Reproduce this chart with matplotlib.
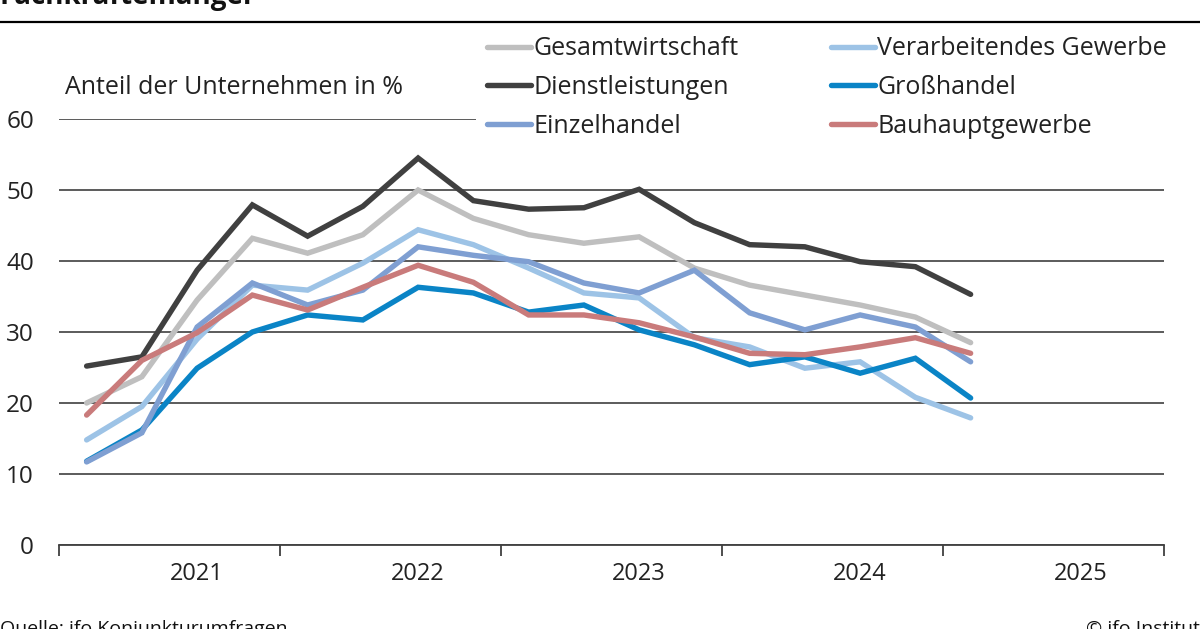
import numpy as np
import matplotlib.pyplot as plt
from matplotlib.lines import Line2D

plt.rcParams['font.family'] = ['Open Sans', 'DejaVu Sans']

# quarterly values, 2021 Q1 .. 2025 Q1
gesamt = [20.0, 23.7, 34.5, 43.2, 41.1, 43.7, 50.0, 46.0, 43.7, 42.5, 43.4, 39.0, 36.6, 35.2, 33.8, 32.1, 28.5]
dienst = [25.2, 26.5, 38.7, 47.9, 43.5, 47.7, 54.5, 48.5, 47.3, 47.5, 50.1, 45.4, 42.3, 42.0, 39.9, 39.2, 35.3]
einzel = [11.7, 15.8, 30.7, 36.9, 33.8, 35.9, 42.0, 40.8, 39.9, 36.9, 35.5, 38.7, 32.7, 30.3, 32.4, 30.7, 25.8]
verarb = [14.8, 19.5, 29.0, 36.6, 35.9, 39.7, 44.4, 42.3, 39.0, 35.5, 34.8, 29.2, 27.9, 24.9, 25.8, 20.8, 17.9]
gross = [11.8, 16.2, 24.9, 30.0, 32.4, 31.7, 36.3, 35.5, 32.8, 33.8, 30.3, 28.2, 25.4, 26.5, 24.2, 26.3, 20.7]
bau = [18.3, 26.0, 29.9, 35.2, 33.1, 36.3, 39.4, 37.0, 32.4, 32.4, 31.3, 29.3, 27.0, 26.8, 27.9, 29.2, 27.0]

years = ['2021', '2022', '2023', '2024', '2025']
yticks = [0, 10, 20, 30, 40, 50, 60]

series = [
    ('Gesamtwirtschaft', gesamt, '#bfbfbf'),
    ('Verarbeitendes Gewerbe', verarb, '#9dc3e6'),
    ('Dienstleistungen', dienst, '#404040'),
    ('Großhandel', gross, '#0a84c6'),
    ('Einzelhandel', einzel, '#7f9fd2'),
    ('Bauhauptgewerbe', bau, '#c97b7b'),
]

W, H = 1200, 629
fig = plt.figure(figsize=(12, 6.29), dpi=100)
ax = fig.add_axes([59 / W, 1 - 545 / H, 1105 / W, 426 / H])

x = np.arange(len(gesamt)) + 0.5
handles = {}
for name, vals, col in series:
    ln, = ax.plot(x, vals, color=col, lw=3.9, solid_capstyle='round',
                  solid_joinstyle='miter', label=name, zorder=3)
    handles[name] = ln

ax.set_xlim(0, 20)
ax.set_ylim(0, 60)

for s in ['top', 'right', 'left']:
    ax.spines[s].set_visible(False)
ax.spines['bottom'].set_color('#404040')
ax.spines['bottom'].set_linewidth(1.3)

ax.set_yticks(yticks)
ax.yaxis.grid(True, color='#404040', lw=1.2)
ax.set_axisbelow(True)
ax.tick_params(axis='y', length=0, pad=18, labelsize=17.5, labelcolor='#222222')

ax.set_xticks(np.arange(0, 21, 4))
ax.set_xticklabels([])
ax.tick_params(axis='x', which='major', direction='out', length=8, width=1.3, color='#404040')
ax.set_xticks(np.arange(2.5, 20, 4), minor=True)
ax.set_xticklabels(years, minor=True)
ax.tick_params(axis='x', which='minor', length=0, pad=12, labelsize=17, labelcolor='#222222')

ax.text(65 / W, 1 - 88 / H, 'Anteil der Unternehmen in %', transform=fig.transFigure,
        fontsize=18, color='#222222', va='center', ha='left')

order = ['Gesamtwirtschaft', 'Dienstleistungen', 'Einzelhandel',
         'Verarbeitendes Gewerbe', 'Großhandel', 'Bauhauptgewerbe']
leg = ax.legend([handles[n] for n in order], order, ncol=2, loc='upper left',
                bbox_to_anchor=(476 / W, 1 - 25 / H), bbox_transform=fig.transFigure,
                fontsize=18, frameon=True, facecolor='white', edgecolor='none',
                framealpha=1, handlelength=1.75, handletextpad=0.1,
                columnspacing=3.7, labelspacing=0.55, borderpad=0.45, borderaxespad=0)
leg.set_zorder(5)
for t in leg.get_texts():
    t.set_color('#222222')

# title (cut off at the top) and rule
fig.text(0, 1 - 4 / H, 'Fachkräftemangel', fontsize=20, fontweight='bold',
         va='baseline', ha='left', color='#111111')
fig.add_artist(Line2D([0, 1], [1 - 22 / H] * 2, color='black', lw=1.6))

# source (cut off at the bottom)
fig.text(0, 1 - 620 / H, 'Quelle: ifo Konjunkturumfragen.', fontsize=14,
         va='top', ha='left', color='#111111')
fig.text(1, 1 - 620 / H, '© ifo Institut', fontsize=14,
         va='top', ha='right', color='#111111')

fig.savefig('out.png', dpi=100)
